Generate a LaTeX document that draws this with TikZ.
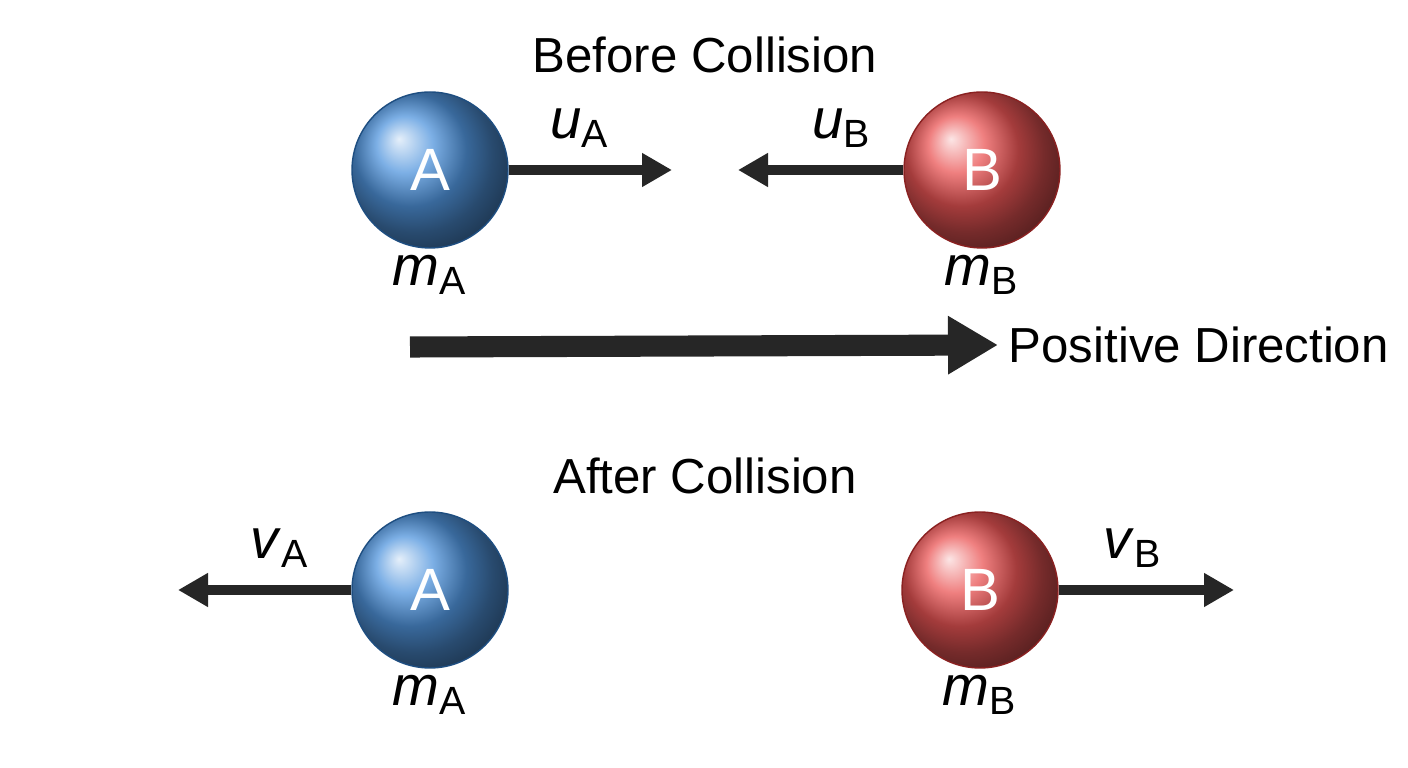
\documentclass[tikz,border=0pt]{standalone}
\usepackage{fontspec}
\setmainfont{Liberation Sans}
\usetikzlibrary{arrows.meta,positioning}
\definecolor{ballblue}{RGB}{50,130,215}
\definecolor{ballred}{RGB}{230,55,55}
\tikzstyle{ball}=[circle,minimum size=1.56cm,inner sep=0pt,text=white,font=\fontsize{17}{20}\selectfont]
\tikzstyle{bluebody}=[ball,shading=ball,ball color=ballblue!85!white,draw=ballblue!60!black,thin]
\tikzstyle{redbody}=[ball,shading=ball,ball color=ballred!85!white,draw=ballred!60!black,thin]
\tikzstyle{velarrow}=[-{Triangle[length=0.3cm,width=0.32cm]},draw=black!85,line width=3pt]
\tikzstyle{bigarrow}=[-{Triangle[length=0.5cm,width=0.55cm]},draw=black!85,line width=6pt]
\tikzstyle{lbl}=[inner sep=0pt,font=\fontsize{16}{19}\selectfont]
\tikzstyle{title}=[inner sep=0pt,font=\fontsize{14}{17}\selectfont]
\newcommand{\qty}[2]{\textit{#1}\textsubscript{#2}}

\begin{document}
\begin{tikzpicture}
	\useasboundingbox (0,0) rectangle (14.08,7.68);
	% before
	\node [title] (before) at (7.05,7.13) {Before Collision};
	\node [bluebody] (A1) at (4.30,5.98) {A};
	\node [redbody] (B1) at (9.82,5.98) {B};
	\coordinate (uAend) at (6.72,5.98);
	\coordinate (uBend) at (7.38,5.98);
	\node [lbl] at (5.80,6.40) {\qty{u}{A}};
	\node [lbl] at (8.42,6.40) {\qty{u}{B}};
	\node [lbl] at (4.30,4.93) {\qty{m}{A}};
	\node [lbl] at (9.82,4.93) {\qty{m}{B}};
	\draw [style=velarrow] (A1) to (uAend);
	\draw [style=velarrow] (B1) to (uBend);
	% positive direction
	\coordinate (pstart) at (4.10,4.21);
	\node [title,anchor=west] (pos) at (10.08,4.23) {Positive Direction};
	\draw [style=bigarrow] (pstart) to ([xshift=-0.1cm]pos.west);
	% after
	\node [title] (after) at (7.05,2.92) {After Collision};
	\node [bluebody] (A2) at (4.30,1.78) {A};
	\node [redbody] (B2) at (9.80,1.78) {B};
	\coordinate (vAend) at (1.78,1.78);
	\coordinate (vBend) at (12.34,1.78);
	\node [lbl] at (2.80,2.20) {\qty{v}{A}};
	\node [lbl] at (11.33,2.20) {\qty{v}{B}};
	\node [lbl] at (4.30,0.73) {\qty{m}{A}};
	\node [lbl] at (9.80,0.73) {\qty{m}{B}};
	\draw [style=velarrow] (A2) to (vAend);
	\draw [style=velarrow] (B2) to (vBend);
\end{tikzpicture}
\end{document}
